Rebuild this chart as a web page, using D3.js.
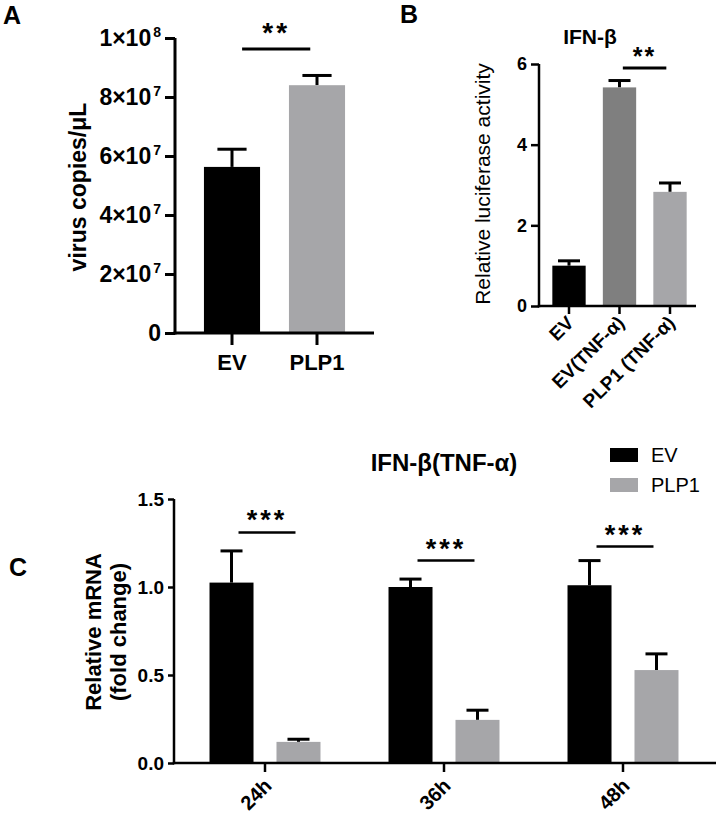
<!DOCTYPE html>
<html><head><meta charset="utf-8">
<script src="https://cdn.jsdelivr.net/npm/d3@7"></script>
<style>body{margin:0;background:#fff} text{font-family:"Liberation Sans",Arial,sans-serif}</style>
</head><body><script>
// Panel A data
const catsA = ["EV", "PLP1"];
const valsA = [5.63e7, 8.40e7];
const semA = [0.60e7, 0.33e7];
const ticksA = [0, 2e7, 4e7, 6e7, 8e7, 1e8];
const sigA = [9.63e7];
const starsA = ["**"];
// Panel B data
const catsB = ["EV", "EV(TNF-α)", "PLP1 (TNF-α)"];
const valsB = [1.0, 5.42, 2.83];
const semB = [0.12, 0.17, 0.22];
const ticksB = [0, 2, 4, 6];
const sigB = [5.9];
const starsB = ["**"];
// Panel C data
const groupsC = ["24h", "36h", "48h"];
const seriesC = ["EV", "PLP1"];
const evC = [1.025, 1.0, 1.01];
const evSemC = [0.18, 0.045, 0.14];
const plpC = [0.12, 0.245, 0.528];
const plpSemC = [0.015, 0.055, 0.092];
const ticksC = [0, 0.5, 1.0, 1.5];
const sigC = [1.31, 1.15, 1.23];
const starsC = ["***", "***", "***"];

const BLACK = "#000", GRAY = "#a6a6a9", DGRAY = "#7f7f7f";
const colorsA = [BLACK, GRAY];
const colorsB = [BLACK, DGRAY, GRAY];
const colorsC = {EV: BLACK, PLP1: GRAY};

const svg = d3.select("body").append("svg").attr("width", 716).attr("height", 815);
const STAR = '"DejaVu Sans",sans-serif';
const FONT = '"Liberation Sans",Arial,sans-serif';

function errBar(g, cx, y0, y1, half, sw) {
  g.append("line").attr("x1", cx).attr("x2", cx).attr("y1", y0).attr("y2", y1).attr("stroke", "#000").attr("stroke-width", sw);
  g.append("line").attr("x1", cx - half).attr("x2", cx + half).attr("y1", y1).attr("y2", y1).attr("stroke", "#000").attr("stroke-width", sw);
}

// ---------------- Panel A ----------------
{
  const g = svg.append("g");
  const y = d3.scaleLinear().domain([0, 1e8]).range([333, 38]);
  const x = d3.scaleBand().domain(catsA).range([189.5, 359.5]).paddingInner(0.34).paddingOuter(0.17);
  const bw = x.bandwidth();
  catsA.forEach((c, i) => {
    errBar(g, x(c) + bw / 2, y(valsA[i]), y(valsA[i] + semA[i]), bw * 0.26, 3);
    g.append("rect").attr("x", x(c)).attr("y", y(valsA[i])).attr("width", bw).attr("height", y(0) - y(valsA[i])).attr("fill", colorsA[i]);
  });
  const ay = g.append("g").attr("transform", "translate(175,0)")
    .call(d3.axisLeft(y).tickValues(ticksA).tickSize(10).tickSizeOuter(0).tickPadding(4));
  ay.select(".domain").attr("stroke-width", 3).attr("d", `M0,${y(0)+1.5}V${y(1e8)}`);
  ay.selectAll(".tick line").attr("stroke-width", 3);
  ay.selectAll(".tick text").attr("font-size", 23).attr("font-weight", "bold").attr("font-family", FONT).attr("fill", "#000")
    .each(function(d) {
      const t = d3.select(this); t.text(null);
      if (d === 0) { t.text("0"); return; }
      const e = Math.floor(Math.log10(d)); const m = Math.round(d / Math.pow(10, e));
      t.append("tspan").text(m + "×10");
      t.append("tspan").attr("dy", -9).attr("font-size", 14).attr("dx", 2).text(e);
    });
  const ax = g.append("g").attr("transform", `translate(0,${y(0)})`)
    .call(d3.axisBottom(x).tickSize(12).tickPadding(9));
  ax.select(".domain").remove();
  ax.selectAll(".tick line").attr("stroke-width", 3);
  ax.selectAll(".tick text").attr("font-size", 22).attr("font-weight", "bold").attr("font-family", FONT).attr("fill", "#000");
  g.append("line").attr("x1", 173.5).attr("x2", 374).attr("y1", y(0)).attr("y2", y(0)).attr("stroke", "#000").attr("stroke-width", 3);
  const x1 = x(catsA[0]) + bw * 0.68, x2 = x(catsA[1]) + bw * 0.38;
  g.append("line").attr("x1", x1).attr("x2", x2).attr("y1", y(sigA[0])).attr("y2", y(sigA[0])).attr("stroke", "#000").attr("stroke-width", 3);
  g.append("text").attr("x", (x1 + x2) / 2).attr("y", y(sigA[0]) - 7).attr("text-anchor", "middle")
    .attr("font-family", STAR).attr("font-weight", "bold").attr("font-size", 28).attr("letter-spacing", 3).text(starsA[0]);
  g.append("text").attr("transform", "translate(86,187) rotate(-90)").attr("text-anchor", "middle")
    .attr("font-size", 23).attr("font-weight", "bold").text("virus copies/μL");
  svg.append("text").attr("x", 3).attr("y", 24).attr("font-size", 25).attr("font-weight", "bold").text("A");
}

// ---------------- Panel B ----------------
{
  const g = svg.append("g");
  const y = d3.scaleLinear().domain([0, 6]).range([306, 64]);
  const x = d3.scaleBand().domain(catsB).range([543.75, 695.25]).paddingInner(0.34).paddingOuter(0.17);
  const bw = x.bandwidth();
  catsB.forEach((c, i) => {
    errBar(g, x(c) + bw / 2, y(valsB[i]), y(valsB[i] + semB[i]), bw * 0.33, 3);
    g.append("rect").attr("x", x(c)).attr("y", y(valsB[i])).attr("width", bw).attr("height", y(0) - y(valsB[i])).attr("fill", colorsB[i]);
  });
  const ay = g.append("g").attr("transform", "translate(539,0)")
    .call(d3.axisLeft(y).tickValues(ticksB).tickSize(8).tickSizeOuter(0).tickPadding(4).tickFormat(d3.format("d")));
  ay.select(".domain").attr("stroke-width", 2.5).attr("d", `M0,${y(0)+1.25}V${y(6)}`);
  ay.selectAll(".tick line").attr("stroke-width", 2.5);
  ay.selectAll(".tick text").attr("font-size", 18).attr("font-weight", "bold").attr("font-family", FONT).attr("fill", "#000");
  const ax = g.append("g").attr("transform", `translate(0,${y(0)})`)
    .call(d3.axisBottom(x).tickSize(8).tickPadding(4));
  ax.select(".domain").remove();
  ax.selectAll(".tick line").attr("stroke-width", 2.5);
  ax.selectAll(".tick text").attr("font-size", 19).attr("font-weight", "bold").attr("font-family", FONT).attr("fill", "#000")
    .attr("text-anchor", "end").attr("dy", null).attr("y", null).attr("transform", "translate(6,18) rotate(-45)");
  g.append("line").attr("x1", 537.75).attr("x2", 696).attr("y1", y(0)).attr("y2", y(0)).attr("stroke", "#000").attr("stroke-width", 2.5);
  const x1 = x(catsB[1]) + bw * 0.6, x2 = x(catsB[2]) + bw * 0.39;
  g.append("line").attr("x1", x1).attr("x2", x2).attr("y1", y(sigB[0])).attr("y2", y(sigB[0])).attr("stroke", "#000").attr("stroke-width", 3);
  g.append("text").attr("x", (x1 + x2) / 2).attr("y", y(sigB[0]) - 3).attr("text-anchor", "middle")
    .attr("font-family", STAR).attr("font-weight", "bold").attr("font-size", 25).attr("letter-spacing", 2).text(starsB[0]);
  g.append("text").attr("x", 590).attr("y", 44).attr("text-anchor", "middle").attr("font-size", 21).attr("font-weight", "bold").text("IFN-β");
  g.append("text").attr("transform", "translate(490,184) rotate(-90)").attr("text-anchor", "middle")
    .attr("font-size", 21).text("Relative luciferase activity");
  svg.append("text").attr("x", 400).attr("y", 23).attr("font-size", 25).attr("font-weight", "bold").text("B");
}

// ---------------- Panel C ----------------
{
  const g = svg.append("g");
  const y = d3.scaleLinear().domain([0, 1.5]).range([763, 499]);
  const x = d3.scaleBand().domain(groupsC).range([175.5, 712.5]).paddingInner(0.38).paddingOuter(0.19);
  const xs = d3.scaleBand().domain(seriesC).range([0, x.bandwidth()]).paddingInner(0.343);
  const bw = xs.bandwidth();
  const dataC = {EV: [evC, evSemC], PLP1: [plpC, plpSemC]};
  groupsC.forEach((grp, i) => {
    seriesC.forEach(s => {
      const v = dataC[s][0][i], e = dataC[s][1][i];
      const x0 = x(grp) + xs(s);
      errBar(g, x0 + bw / 2, y(v), y(v + e), bw * 0.25, 3);
      g.append("rect").attr("x", x0).attr("y", y(v)).attr("width", bw).attr("height", y(0) - y(v)).attr("fill", colorsC[s]);
    });
    const x1 = x(grp) + xs("EV") + bw / 2 + 7, x2 = x(grp) + xs("PLP1") + bw / 2 - 3;
    g.append("line").attr("x1", x1).attr("x2", x2).attr("y1", y(sigC[i])).attr("y2", y(sigC[i])).attr("stroke", "#000").attr("stroke-width", 2.5);
    g.append("text").attr("x", (x1 + x2) / 2).attr("y", y(sigC[i]) - 3).attr("text-anchor", "middle")
      .attr("font-family", STAR).attr("font-weight", "bold").attr("font-size", 27).attr("letter-spacing", 3).text(starsC[i]);
  });
  const ay = g.append("g").attr("transform", "translate(174,0)")
    .call(d3.axisLeft(y).tickValues(ticksC).tickSize(6).tickSizeOuter(0).tickPadding(4).tickFormat(d3.format(".1f")));
  ay.select(".domain").attr("stroke-width", 2.5).attr("d", `M0,${y(0)+1.25}V${y(1.5)}`);
  ay.selectAll(".tick line").attr("stroke-width", 2.5);
  ay.selectAll(".tick text").attr("font-size", 19).attr("font-weight", "bold").attr("font-family", FONT).attr("fill", "#000");
  const ax = g.append("g").attr("transform", `translate(0,${y(0)})`)
    .call(d3.axisBottom(x).tickSize(9).tickPadding(4));
  ax.select(".domain").remove();
  ax.selectAll(".tick line").attr("stroke-width", 2.5);
  ax.selectAll(".tick text").attr("font-size", 20).attr("font-weight", "bold").attr("font-family", FONT).attr("fill", "#000")
    .attr("text-anchor", "end").attr("dy", null).attr("y", null).attr("transform", "translate(8,24) rotate(-45)");
  g.append("line").attr("x1", 172.75).attr("x2", 716).attr("y1", y(0)).attr("y2", y(0)).attr("stroke", "#000").attr("stroke-width", 2.5);
  g.append("text").attr("x", 444).attr("y", 471).attr("text-anchor", "middle").attr("font-size", 24).attr("font-weight", "bold").text("IFN-β(TNF-α)");
  seriesC.forEach((s, i) => {
    g.append("rect").attr("x", 610).attr("y", 448 + i * 30).attr("width", 28).attr("height", 14).attr("fill", colorsC[s]);
    g.append("text").attr("x", 651).attr("y", 462 + i * 30).attr("font-size", 20).text(s);
  });
  g.append("text").attr("transform", "translate(101,632) rotate(-90)").attr("text-anchor", "middle").attr("font-size", 22).attr("font-weight", "bold").text("Relative mRNA");
  g.append("text").attr("transform", "translate(126,632) rotate(-90)").attr("text-anchor", "middle").attr("font-size", 22).attr("font-weight", "bold").text("(fold change)");
  svg.append("text").attr("x", 9).attr("y", 576).attr("font-size", 25).attr("font-weight", "bold").text("C");
}
</script></body></html>
